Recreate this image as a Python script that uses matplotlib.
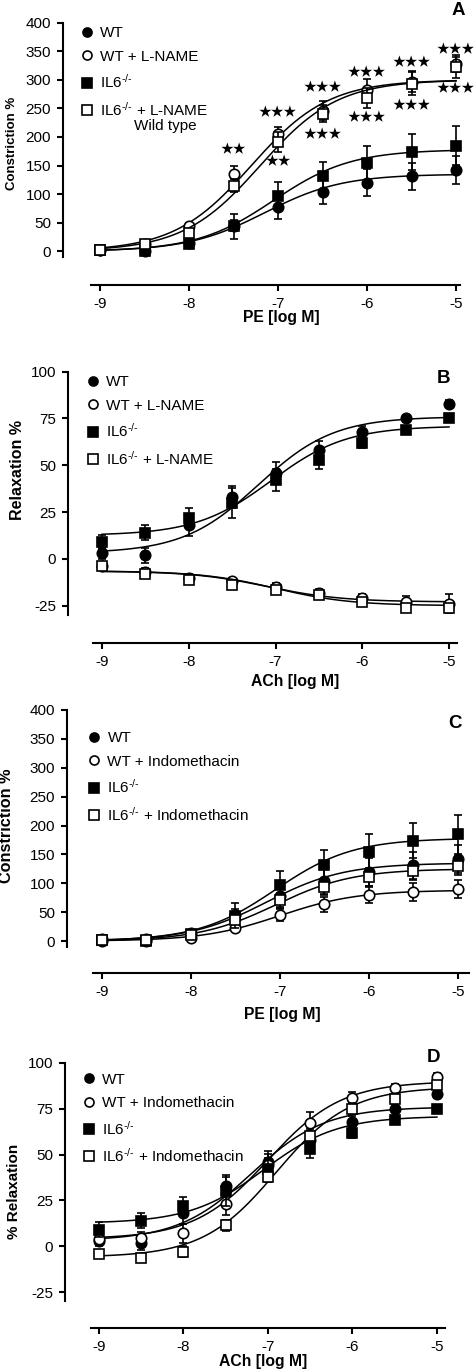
import numpy as np
import matplotlib
matplotlib.use("Agg")
import matplotlib.pyplot as plt
from matplotlib.lines import Line2D

plt.rcParams['font.family'] = ['Liberation Sans', 'DejaVu Sans']
plt.rcParams['mathtext.default'] = 'regular'

doses = [-9, -8.5, -8, -7.5, -7, -6.5, -6, -5.5, -5]

# PE constriction (%), mean and SEM
pe_wt        = [3, 0, 14, 45, 78, 104, 120, 131, 142]
pe_wt_err    = [3, 3, 5, 10, 21, 22, 24, 24, 25]
pe_il6       = [2, 0, 12, 44, 97, 132, 155, 174, 185]
pe_il6_err   = [3, 3, 5, 22, 24, 25, 30, 31, 34]
pe_wt_ln     = [3, 12, 44, 135, 205, 246, 282, 297, 328]
pe_wt_ln_err = [2, 3, 5, 15, 13, 17, 20, 18, 15]
pe_il6_ln    = [2, 13, 32, 115, 191, 241, 268, 293, 322]
pe_il6_ln_err = [2, 3, 5, 12, 18, 15, 18, 20, 18]
pe_wt_in     = [0, 3, 5, 22, 45, 64, 79, 85, 90]
pe_wt_in_err = [2, 2, 3, 5, 10, 13, 14, 15, 16]
pe_il6_in    = [1, 2, 11, 37, 71, 94, 111, 121, 130]
pe_il6_in_err = [2, 2, 4, 8, 12, 14, 15, 16, 15]

# ACh relaxation (%), mean and SEM
ach_wt        = [3, 2, 18, 33, 46, 58, 68, 75, 83]
ach_wt_err    = [3, 4, 6, 6, 6, 5, 3, 2, 2]
ach_il6       = [9, 14, 22, 30, 42, 53, 62, 69, 75]
ach_il6_err   = [4, 4, 5, 8, 6, 5, 3, 2, 2]
ach_wt_ln     = [-4, -7, -10, -12, -15, -18, -21, -23, -24]
ach_wt_ln_err = [2, 2, 2, 2, 2, 2, 2, 3, 5]
ach_il6_ln    = [-4, -8, -11.5, -14, -16.5, -19.5, -23, -26.5, -26.5]
ach_il6_ln_err = [2, 2, 2, 2, 2, 2, 2, 2, 2]
ach_wt_in     = [4, 4.5, 7, 23, 44.5, 67, 81, 86.5, 92.5]
ach_wt_in_err = [3, 3, 5, 6, 6, 6, 3, 2, 2]
ach_il6_in    = [-4, -6.5, -3, 11.5, 38, 60, 75, 80.5, 88]
ach_il6_in_err = [2, 2, 3, 3, 3, 4, 3, 2, 2]

# sigmoid fits: bottom, top, logEC50, hill slope
fit_pe_wt     = (0, 135, -7.15, 1.0)
fit_pe_il6    = (0, 178, -7.05, 1.0)
fit_pe_wt_ln  = (0, 300, -7.30, 1.0)
fit_pe_il6_ln = (0, 300, -7.20, 1.0)
fit_pe_wt_in  = (0, 88, -7.00, 1.0)
fit_pe_il6_in = (0, 125, -7.05, 1.0)
fit_ach_wt     = (3, 76, -7.2, 1.0)
fit_ach_il6    = (12.5, 71, -7.05, 1.0)
fit_ach_wt_ln  = (-6.5, -23, -7.1, 1.0)
fit_ach_il6_ln = (-6.5, -25, -7.0, 1.0)
fit_ach_wt_in  = (4, 90, -7.0, 1.0)
fit_ach_il6_in = (-6, 87, -6.9, 1.0)

# significance stars in panel A
star_x = [-7.5, -7, -7, -6.5, -6.5, -6, -6, -5.5, -5.5, -5, -5]
star_y = [178, 242, 157, 286, 204, 312, 233, 330, 254, 353, 284]
star_n = [2, 3, 2, 3, 3, 3, 3, 3, 3, 3, 3]

il6 = 'IL6$^{\u2010/\u2010}$'
STYLES = [('o', 'black'), ('o', 'white'), ('s', 'black'), ('s', 'white')]


def hill(x, bottom, top, logec50, slope):
    return bottom + (top - bottom) / (1 + 10 ** ((logec50 - x) * slope))


def draw_panel(ax, series, fits, labels, letter, ylabel, ylab_fs, xlabel,
               ylim, yticks, xlim, xbounds, outward, legend_at, letter_at,
               ylab_at, xlab_at):
    xs = np.linspace(-9, -5, 200)
    for k, ((vals, err), fit, (m, fc)) in enumerate(zip(series, fits, STYLES)):
        ax.plot(xs, hill(xs, *fit), color='black', lw=1.1, zorder=2 + k)
        ax.errorbar(doses, vals, yerr=err, fmt='none', ecolor='black',
                    elinewidth=1.2, capsize=3.2, capthick=1.2, zorder=3 + k)
        ax.plot(doses, vals, ls='none', marker=m, ms=7.5, mfc=fc, mec='black',
                mew=1.2, zorder=4 + k, clip_on=False)

    ax.set_xlim(*xlim)
    ax.set_ylim(*ylim)
    ax.set_yticks(yticks)
    ax.set_xticks([-9, -8, -7, -6, -5])
    ax.set_xticklabels(['-9', '-8', '-7', '-6', '-5'])
    ax.set_yticklabels([str(t) for t in yticks])
    for s in ('top', 'right'):
        ax.spines[s].set_visible(False)
    ax.spines['left'].set_linewidth(1.5)
    ax.spines['bottom'].set_linewidth(1.5)
    ax.spines['bottom'].set_position(('outward', outward))
    ax.spines['bottom'].set_bounds(*xbounds)
    ax.tick_params(direction='out', length=4.5, width=1.5, labelsize=11, pad=4)

    ax.set_ylabel(ylabel, fontsize=ylab_fs, fontweight='bold', va='center')
    ax.yaxis.set_label_coords(*ylab_at)
    ax.set_xlabel(xlabel, fontsize=11.3, fontweight='bold', va='center')
    ax.xaxis.set_label_coords(*xlab_at)

    handles = [Line2D([], [], ls='none', marker=m, ms=6.5, mfc=fc, mec='black', mew=1.2)
               for m, fc in STYLES]
    ax.legend(handles, labels, loc='upper left', bbox_to_anchor=legend_at,
              frameon=False, fontsize=11, borderpad=0, borderaxespad=0,
              handlelength=0.8, handletextpad=0.45, labelspacing=0.62)

    ax.text(*letter_at, letter, transform=ax.transAxes, fontsize=13.5,
            fontweight='bold', ha='center', va='center')


fig = plt.figure(figsize=(4.75, 13.72), dpi=100)
W, H = 475.0, 1372.0


def add_axes(left, right, top, bottom):
    return fig.add_axes([left / W, 1 - bottom / H, (right - left) / W, (bottom - top) / H])


# panel A
axA = add_axes(63, 470, 22.7, 257)
draw_panel(axA,
           [(pe_wt, pe_wt_err), (pe_wt_ln, pe_wt_ln_err),
            (pe_il6, pe_il6_err), (pe_il6_ln, pe_il6_ln_err)],
           [fit_pe_wt, fit_pe_wt_ln, fit_pe_il6, fit_pe_il6_ln],
           ['WT', 'WT + L-NAME', il6, il6 + ' + L-NAME'],
           'A', 'Constriction %', 9.5, 'PE [log M]',
           (-10, 400), list(range(0, 401, 50)), (-9.416, -4.843), (-9.1, -4.955), 20,
           (0.044, 0.985), (0.970, 1.05), (-0.125, 0.484), (0.536, -0.26))
for x, y, n in zip(star_x, star_y, star_n):
    axA.text(x, y, '\u2605' * n, family=['Noto Sans CJK JP', 'DejaVu Sans'],
             fontsize=9.2, ha='center', va='center', clip_on=False, zorder=20)
axA.text(-8.264, 218.7, 'Wild type', fontsize=11, ha='center', va='center')

# panel B
axB = add_axes(68, 470, 371.7, 615)
draw_panel(axB,
           [(ach_wt, ach_wt_err), (ach_wt_ln, ach_wt_ln_err),
            (ach_il6, ach_il6_err), (ach_il6_ln, ach_il6_ln_err)],
           [fit_ach_wt, fit_ach_wt_ln, fit_ach_il6, fit_ach_il6_ln],
           ['WT', 'WT + L-NAME', il6, il6 + ' + L-NAME'],
           'B', 'Relaxation %', 11.5, 'ACh [log M]',
           (-30, 100), [-25, 0, 25, 50, 75, 100], (-9.392, -4.758), (-9.104, -4.908), 20,
           (0.047, 0.985), (0.935, 0.97), (-0.126, 0.596), (0.565, -0.274))

# panel C
axC = add_axes(67, 470, 710, 946.8)
draw_panel(axC,
           [(pe_wt, pe_wt_err), (pe_wt_in, pe_wt_in_err),
            (pe_il6, pe_il6_err), (pe_il6_in, pe_il6_in_err)],
           [fit_pe_wt, fit_pe_wt_in, fit_pe_il6, fit_pe_il6_in],
           ['WT', 'WT + Indomethacin', il6, il6 + ' + Indomethacin'],
           'C', 'Constriction %', 11.7, 'PE [log M]',
           (-10, 400), list(range(0, 401, 50)), (-9.393, -4.865), (-9.10, -4.88), 19,
           (0.053, 0.91), (0.963, 0.945), (-0.151, 0.511), (0.534, -0.288))

# panel D
axD = add_axes(65, 470, 1063, 1301.2)
draw_panel(axD,
           [(ach_wt, ach_wt_err), (ach_wt_in, ach_wt_in_err),
            (ach_il6, ach_il6_err), (ach_il6_in, ach_il6_in_err)],
           [fit_ach_wt, fit_ach_wt_in, fit_ach_il6, fit_ach_il6_in],
           ['WT', 'WT + Indomethacin', il6, il6 + ' + Indomethacin'],
           'D', '% Relaxation', 11, 'ACh [log M]',
           (-30, 100), [-25, 0, 25, 50, 75, 100], (-9.402, -4.609), (-9.095, -4.905), 19.3,
           (0.044, 0.96), (0.91, 1.025), (-0.125, 0.463), (0.49, -0.254))

fig.savefig('out.png', dpi=100)
